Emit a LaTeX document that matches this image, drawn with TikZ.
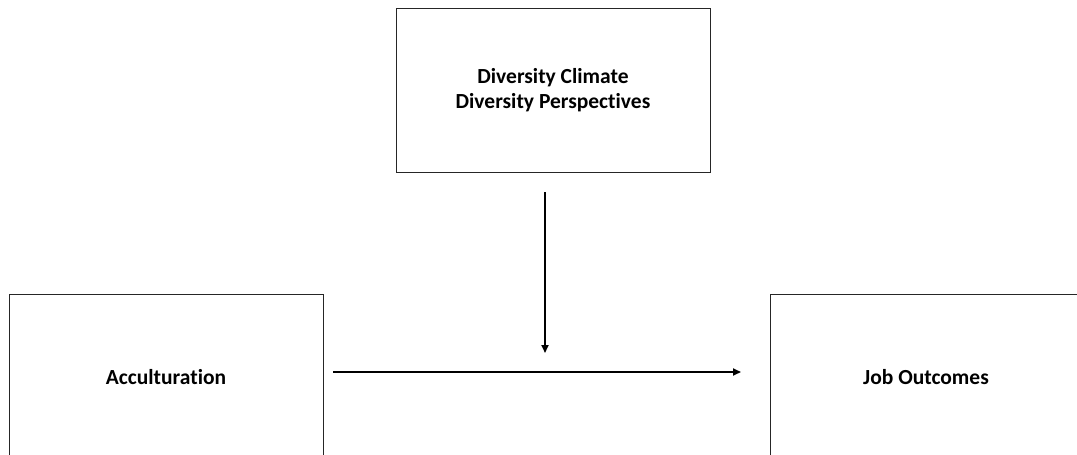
\documentclass[tikz,border=0pt]{standalone}
\usepackage{fontspec}
\setmainfont{Carlito}[Ligatures={NoCommon}]
\usetikzlibrary{arrows.meta}
\begin{document}
\begin{tikzpicture}[x=1pt,y=-1pt,
  box/.style={draw=black!85,line width=1pt,inner sep=0pt,font=\bfseries\fontsize{21.5}{25}\selectfont,align=center},
  arr/.style={line width=1.8pt,-{Triangle[length=8pt,width=7pt]}}]
\useasboundingbox (0,0) rectangle (1077,455);
\clip (0,0) rectangle (1077,455);
\node[box,minimum width=314pt,minimum height=164pt] (dc) at (553,90) {Diversity Climate\\Diversity Perspectives};
\node[box,minimum width=314pt,minimum height=166pt] (ac) at (166,377) {Acculturation};
\node[box,minimum width=312pt,minimum height=166pt] (jo) at (926,377) {Job Outcomes};
\coordinate (v1) at (545,192);
\coordinate (v2) at (545,353);
\coordinate (h1) at (333,372);
\coordinate (h2) at (741,372);
\draw[arr] (v1) -- (v2);
\draw[arr] (h1) -- (h2);
\end{tikzpicture}
\end{document}
